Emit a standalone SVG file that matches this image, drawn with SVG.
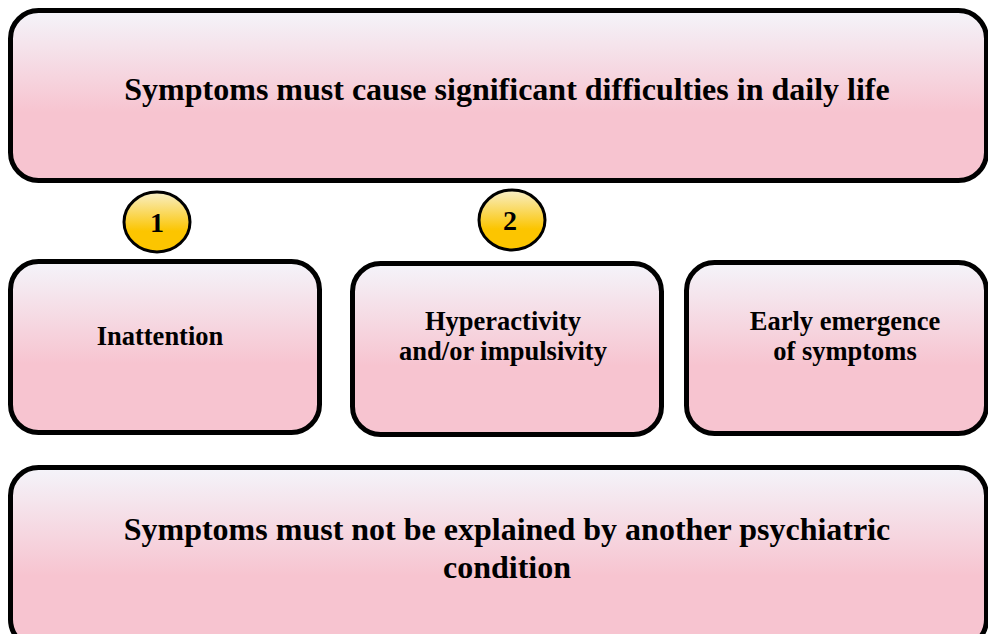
<svg xmlns="http://www.w3.org/2000/svg" width="988" height="634" viewBox="0 0 988 634">
  <defs>
    <linearGradient id="boxFill" x1="0" y1="0" x2="0" y2="1">
      <stop offset="0" stop-color="#f4f4fa"/>
      <stop offset="0.6" stop-color="#f7c4d0"/>
      <stop offset="1" stop-color="#f7c4d0"/>
    </linearGradient>
    <linearGradient id="badgeFill" x1="0" y1="0" x2="0" y2="1">
      <stop offset="0" stop-color="#f8efc8"/>
      <stop offset="0.65" stop-color="#fcc500"/>
      <stop offset="1" stop-color="#fcc500"/>
    </linearGradient>
  </defs>
  <style>
    .box { fill: url(#boxFill); stroke: #000; stroke-width: 5; }
    .badge { fill: url(#badgeFill); stroke: #000; stroke-width: 3; }
    text { font-family: "Liberation Serif", "Times New Roman", serif; font-weight: bold; fill: #000; text-anchor: middle; }
    .big { font-size: 32px; }
    .mid { font-size: 26.5px; }
    .num { font-size: 28px; }
  </style>

  <g id="node-difficulties">
    <rect class="box" x="10.5" y="10.5" width="976" height="170" rx="28" ry="28"/>
    <text class="big" x="507" y="100">Symptoms must cause significant difficulties in daily life</text>
  </g>

  <g id="badge-1">
    <ellipse class="badge" cx="157" cy="222" rx="33" ry="30"/>
    <text class="num" x="157" y="232">1</text>
  </g>

  <g id="badge-2">
    <ellipse class="badge" cx="512" cy="220" rx="33" ry="30"/>
    <text class="num" x="510" y="230">2</text>
  </g>

  <g id="node-inattention">
    <rect class="box" x="10.5" y="261.5" width="309" height="171" rx="28" ry="28"/>
    <text class="mid" x="160" y="345">Inattention</text>
  </g>

  <g id="node-hyperactivity">
    <rect class="box" x="352.5" y="263.5" width="309" height="171" rx="28" ry="28"/>
    <text class="mid" x="503" y="330">Hyperactivity</text>
    <text class="mid" x="503" y="360">and/or impulsivity</text>
  </g>

  <g id="node-early">
    <rect class="box" x="686.5" y="262.5" width="300" height="171" rx="28" ry="28"/>
    <text class="mid" x="845" y="330">Early emergence</text>
    <text class="mid" x="845" y="360">of symptoms</text>
  </g>

  <g id="node-exclusion">
    <rect class="box" x="10.5" y="467.5" width="976" height="180" rx="28" ry="28"/>
    <text class="big" x="507" y="540">Symptoms must not be explained by another psychiatric</text>
    <text class="big" x="507" y="578">condition</text>
  </g>

  <g id="connectors"/>
</svg>
